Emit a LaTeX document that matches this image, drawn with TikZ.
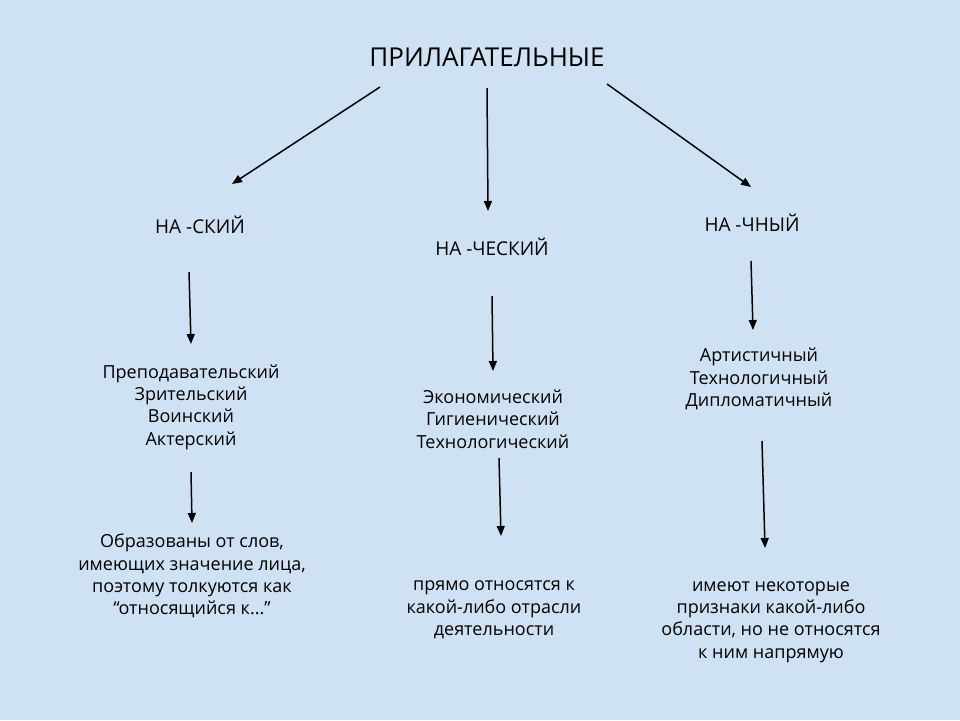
\documentclass[tikz,border=0pt]{standalone}
\usepackage{fontspec}
\setmainfont{Open Sans}
\usetikzlibrary{arrows.meta}
\definecolor{bg}{HTML}{CFE2F3}
\tikzset{
  arr/.style={draw=black,line width=1.5pt,-{Triangle[length=10pt,width=8pt]}},
  txt/.style={font=\fontsize{18}{22.3}\selectfont,align=center,inner sep=0pt,text=black},
  head/.style={font=\fontsize{19}{22}\selectfont,inner sep=0pt,text=black},
}
\begin{document}
\begin{tikzpicture}[x=1pt,y=-1pt]
\fill[bg] (0,0) rectangle (960,720);
\useasboundingbox (0,0) rectangle (960,720);
\node[head,font=\fontsize{26}{28}\selectfont] (root) at (487,57) {ПРИЛАГАТЕЛЬНЫЕ};
\node[head] (h1) at (200,225) {НА -СКИЙ};
\node[head] (h2) at (492,247) {НА -ЧЕСКИЙ};
\node[head] (h3) at (752,223) {НА -ЧНЫЙ};
\node[txt] (l1) at (191,407) {Преподавательский\\Зрительский\\Воинский\\Актерский};
\node[txt] (l2) at (493,419) {Экономический\\Гигиенический\\Технологический};
\node[txt] (l3) at (759,379) {Артистичный\\Технологичный\\Дипломатичный};
\node[txt] (d1) at (192,576) {Образованы от слов,\\имеющих значение лица,\\поэтому толкуются как\\“относящийся к...”};
\node[txt] (d2) at (494,610) {прямо относятся к\\какой-либо отрасли\\деятельности};
\node[txt] (d3) at (771,622) {имеют некоторые\\признаки какой-либо\\области, но не относятся\\к ним напрямую};
% arrow endpoints
\coordinate (a1s) at (380,87);  \coordinate (a1e) at (232,184);
\coordinate (a2s) at (487,88);  \coordinate (a2e) at (488,211);
\coordinate (a3s) at (607,84);  \coordinate (a3e) at (751,187);
\coordinate (a4s) at (189,272); \coordinate (a4e) at (191,344);
\coordinate (a5s) at (492,296); \coordinate (a5e) at (493,371);
\coordinate (a6s) at (751,261); \coordinate (a6e) at (753,330);
\coordinate (a7s) at (191,472); \coordinate (a7e) at (192,523);
\coordinate (a8s) at (499,458); \coordinate (a8e) at (501,536);
\coordinate (a9s) at (762,441); \coordinate (a9e) at (765,548);
\draw[arr] (a1s) -- (a1e);
\draw[arr] (a2s) -- (a2e);
\draw[arr] (a3s) -- (a3e);
\draw[arr] (a4s) -- (a4e);
\draw[arr] (a5s) -- (a5e);
\draw[arr] (a6s) -- (a6e);
\draw[arr] (a7s) -- (a7e);
\draw[arr] (a8s) -- (a8e);
\draw[arr] (a9s) -- (a9e);
\end{tikzpicture}
\end{document}
